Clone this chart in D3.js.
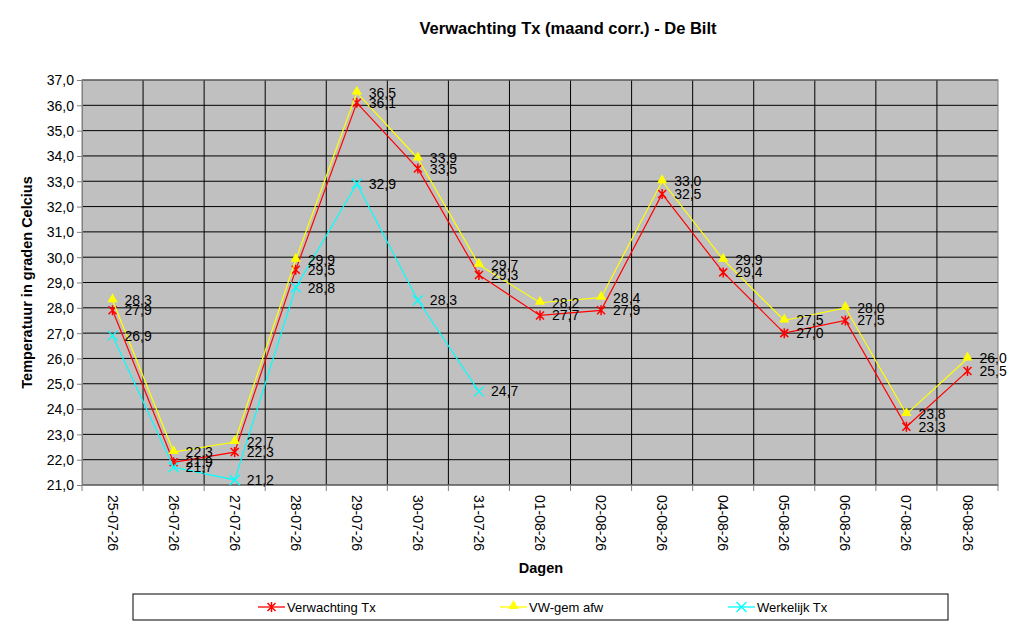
<!DOCTYPE html>
<html>
<head>
<meta charset="utf-8">
<script src="https://cdn.jsdelivr.net/npm/d3@7"></script>
<style>
body{margin:0;background:#fff;}
text{font-family:Arial,"Liberation Sans",sans-serif;}
</style>
</head>
<body>
<div id="grafiek"></div>
<script>
// datums en reeksen
var dagen=["25-07-26","26-07-26","27-07-26","28-07-26","29-07-26","30-07-26","31-07-26","01-08-26","02-08-26","03-08-26","04-08-26","05-08-26","06-08-26","07-08-26","08-08-26"]
var verwachting=[27.9,21.9,22.3,29.5,36.1,33.5,29.3,27.7,27.9,32.5,29.4,27.0,27.5,23.3,25.5]
var vwGem=[28.3,22.3,22.7,29.9,36.5,33.9,29.7,28.2,28.4,33.0,29.9,27.5,28.0,23.8,26.0]
var werkelijk=[26.9,21.7,21.2,28.8,32.9,28.3,24.7,null,null,null,null,null,null,null,null]
var yTicks=d3.range(21,37.01,1)

var series=[
	{naam:"Verwachting Tx",waarden:verwachting,kleur:"#ff0000",marker:"ster"},
	{naam:"VW-gem afw",waarden:vwGem,kleur:"#ffff00",marker:"driehoek"},
	{naam:"Werkelijk Tx",waarden:werkelijk,kleur:"#00ffff",marker:"kruis"}
]

var W=1024,H=627
var margin={top:80,left:82,right:26,bottom:142}
var ancho=W-margin.left-margin.right
var alto=H-margin.top-margin.bottom

var svg1=d3.select("#grafiek").append("svg")
	.attr("width",W).attr("height",H)

var fmt=function(v){return d3.format(".1f")(v).replace(".",",")}

// titel
svg1.append("text")
	.attr("x",568).attr("y",34)
	.attr("text-anchor","middle")
	.style("font-size","16.5px").style("font-weight","bold")
	.text("Verwachting Tx (maand corr.) - De Bilt")

var svg=svg1.append("g")
	.attr("transform","translate("+margin.left+","+margin.top+")")

var escalaX=d3.scaleBand().domain(dagen).range([0,ancho])
var escalaY=d3.scaleLinear().domain([21,37]).range([alto,0])
var cx=function(i){return escalaX(dagen[i])+escalaX.bandwidth()/2}

svg.append("rect")
	.attr("width",ancho).attr("height",alto)
	.attr("fill","#c0c0c0")

// rasterlijnen
svg.selectAll(".hgrid").data(yTicks).enter().append("line")
	.attr("x1",0).attr("x2",ancho)
	.attr("y1",d=>escalaY(d)).attr("y2",d=>escalaY(d))
	.attr("stroke","#000").attr("stroke-width",1)
svg.selectAll(".vgrid").data(dagen.slice(1)).enter().append("line")
	.attr("x1",d=>escalaX(d)).attr("x2",d=>escalaX(d))
	.attr("y1",0).attr("y2",alto)
	.attr("stroke","#000").attr("stroke-width",1)
svg.append("rect")
	.attr("width",ancho).attr("height",alto)
	.attr("fill","none").attr("stroke","#808080")

// assen
var ejeY=svg.append("g")
	.call(d3.axisLeft(escalaY).tickValues(yTicks).tickFormat(fmt).tickSize(5).tickSizeOuter(0))
ejeY.selectAll("text").style("font-size","14px").style("fill","#000").attr("dy","0.35em")
ejeY.select("path").attr("stroke","#808080")
ejeY.selectAll("line").attr("stroke","#808080")

var ejeX=svg.append("g")
	.attr("transform","translate(0,"+alto+")")
	.call(d3.axisBottom(escalaX).tickSize(0).tickSizeOuter(0))
ejeX.select("path").attr("stroke","#808080")
ejeX.selectAll(".tick text")
	.attr("transform","rotate(90)")
	.attr("x",10).attr("y",0).attr("dy","0.35em")
	.attr("text-anchor","start")
	.style("font-size","14px").style("fill","#000")
ejeX.selectAll(".bandtick").data(dagen.concat(["eind"])).enter().append("line")
	.attr("x1",(d,i)=>i*escalaX.step()).attr("x2",(d,i)=>i*escalaX.step())
	.attr("y1",0).attr("y2",6).attr("stroke","#808080")

// astitels
svg1.append("text")
	.attr("transform","translate(32,"+(margin.top+alto/2)+") rotate(-90)")
	.attr("text-anchor","middle")
	.style("font-size","14.5px").style("font-weight","bold")
	.text("Temperatuur in graden Celcius")
svg1.append("text")
	.attr("x",541).attr("y",573)
	.attr("text-anchor","middle")
	.style("font-size","14.5px").style("font-weight","bold")
	.text("Dagen")

function tekenMarker(g,type,kleur,x,y){
	if(type=="driehoek"){
		g.append("path").attr("d",d3.symbol().type(d3.symbolTriangle).size(45)())
			.attr("transform","translate("+x+","+(y-1)+")").attr("fill",kleur)
	}else if(type=="ster"){
		g.append("path").attr("d","M-4,-4L4,4M-4,4L4,-4M0,-5L0,5")
			.attr("transform","translate("+x+","+y+")").attr("stroke",kleur).attr("stroke-width",1.5)
	}else{
		g.append("path").attr("d","M-5,-5L5,5M-5,5L5,-5")
			.attr("transform","translate("+x+","+y+")").attr("stroke",kleur).attr("stroke-width",1.3)
	}
}

var lijn=d3.line()
	.defined(d=>d!=null)
	.x((d,i)=>cx(i))
	.y(d=>escalaY(d))

series.forEach(function(s){
	var g=svg.append("g")
	g.append("path").datum(s.waarden)
		.attr("d",lijn).attr("fill","none")
		.attr("stroke",s.kleur).attr("stroke-width",1.2)
	s.waarden.forEach(function(v,i){
		if(v==null)return
		tekenMarker(g,s.marker,s.kleur,cx(i),escalaY(v))
	})
})
series.forEach(function(s){
	svg.append("g").selectAll("text").data(s.waarden.map((v,i)=>({v:v,i:i})).filter(d=>d.v!=null))
		.enter().append("text")
		.attr("x",d=>cx(d.i)+12)
		.attr("y",d=>escalaY(d.v)+5)
		.style("font-size","14px").style("fill","#000")
		.text(d=>fmt(d.v))
})

// legenda
var leg=svg1.append("g")
leg.append("rect")
	.attr("x",133).attr("y",594).attr("width",815).attr("height",26)
	.attr("fill","#fff").attr("stroke","#000")
var legX=[258,500,728]
series.forEach(function(s,i){
	var x0=legX[i]
	leg.append("line").attr("x1",x0).attr("x2",x0+27).attr("y1",607).attr("y2",607)
		.attr("stroke",s.kleur).attr("stroke-width",1.3)
	tekenMarker(leg,s.marker,s.kleur,x0+13.5,607)
	leg.append("text").attr("x",x0+29).attr("y",612)
		.style("font-size","13px").text(s.naam)
})
</script>
</body>
</html>
